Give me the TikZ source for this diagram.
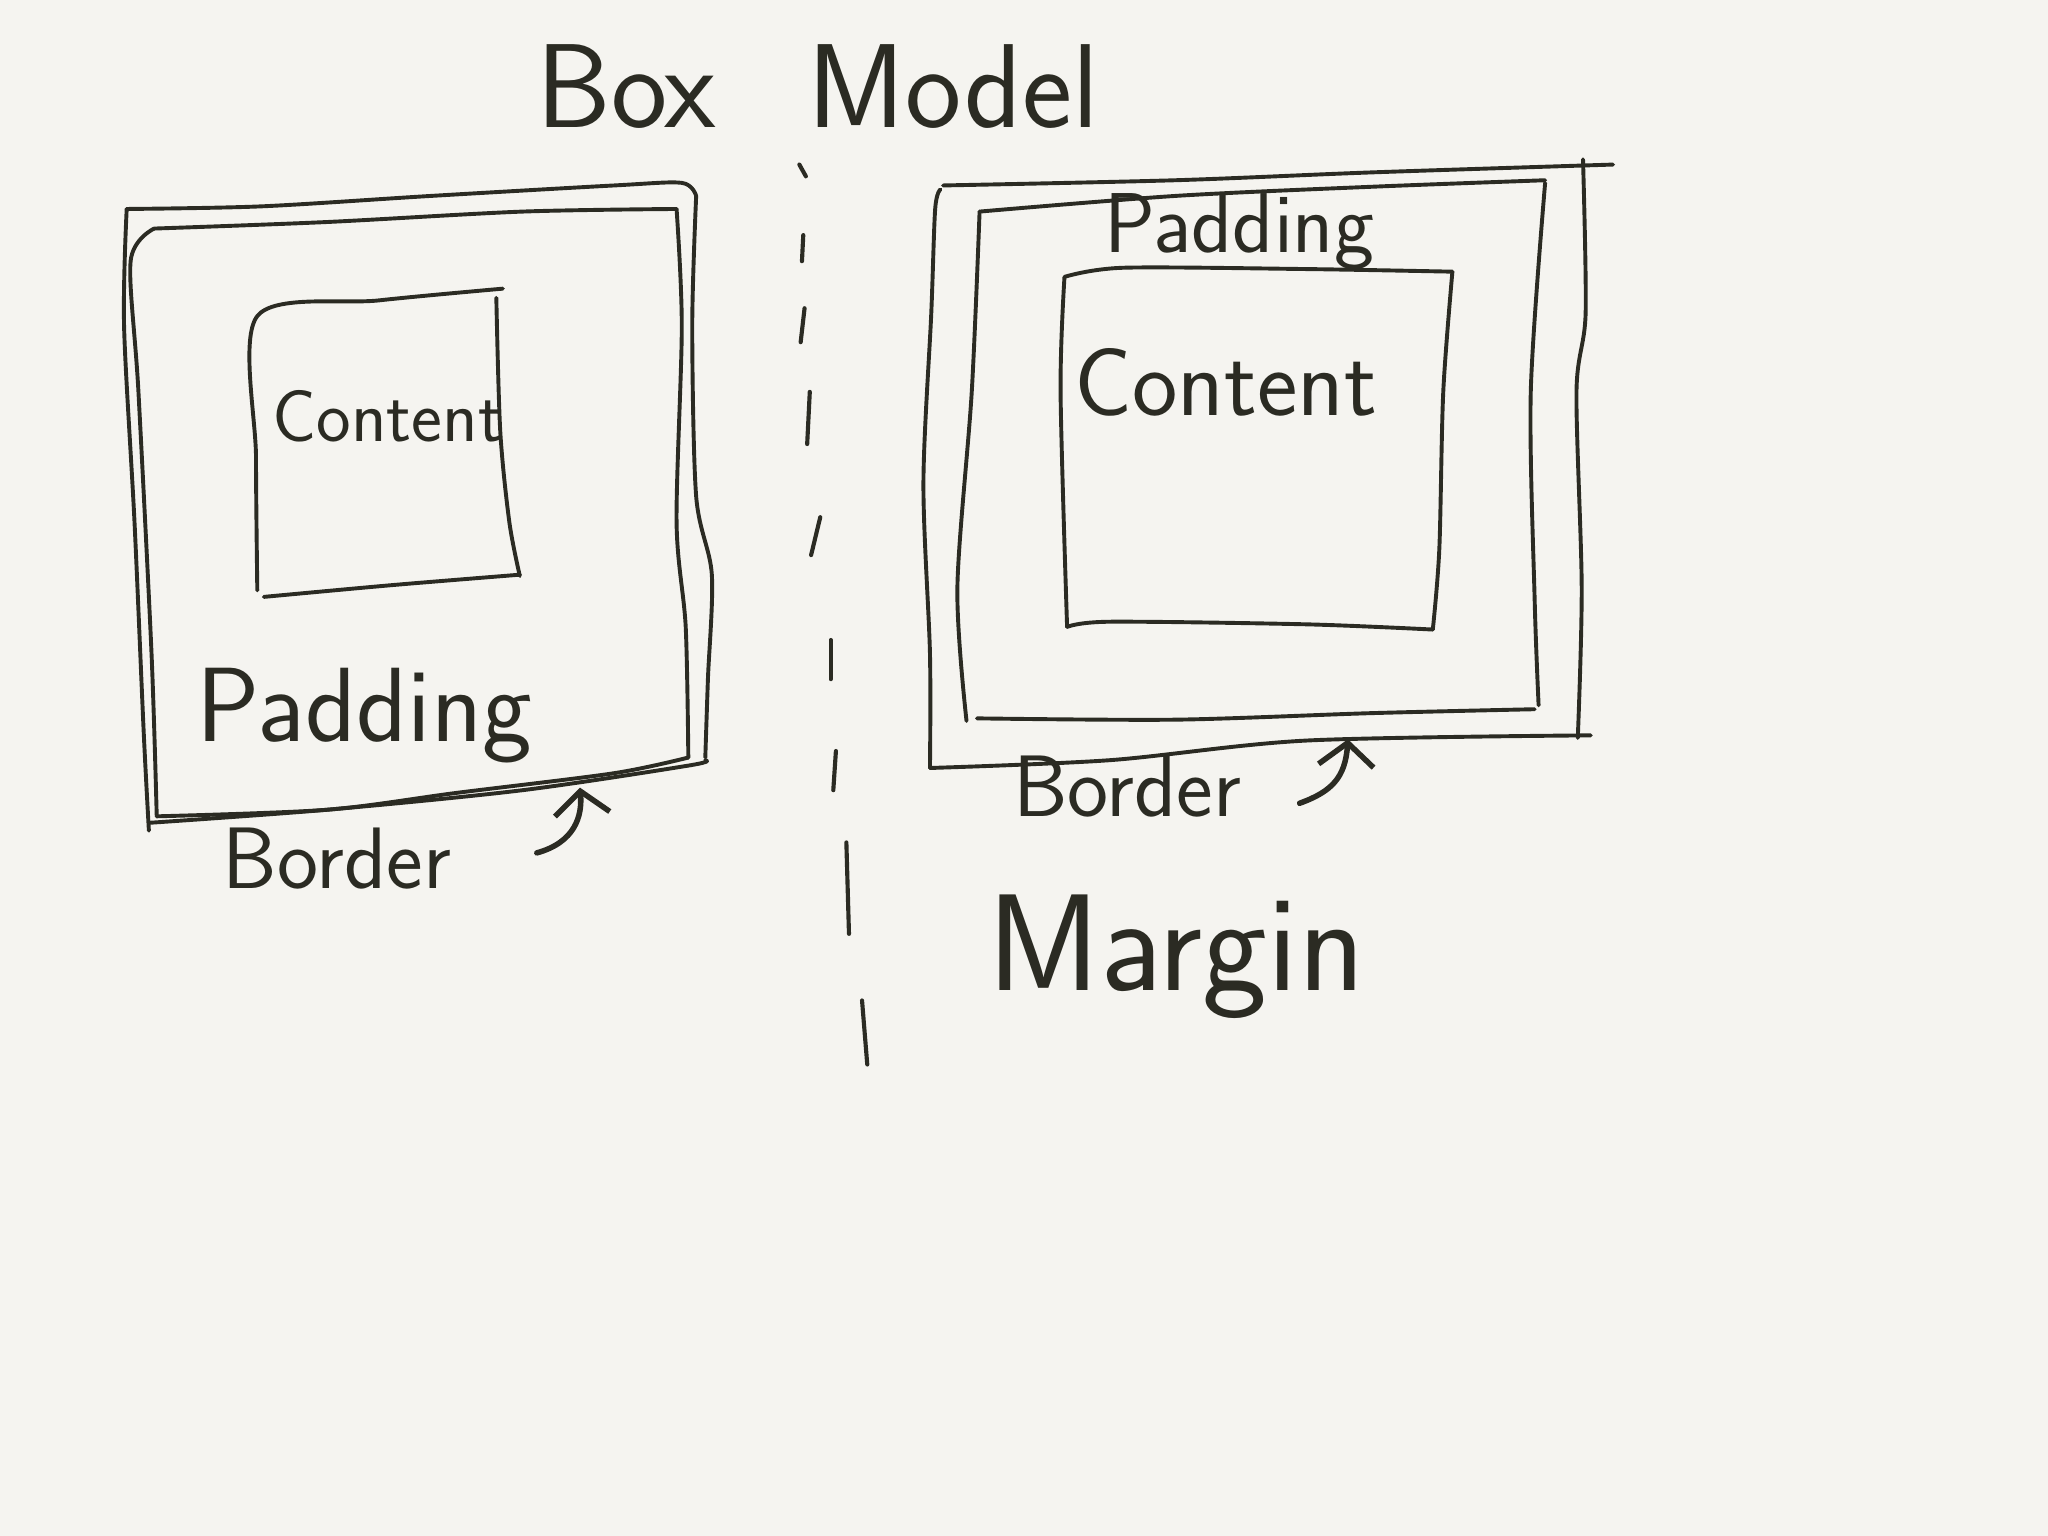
\documentclass[tikz,border=0pt]{standalone}
\usepackage{fontspec}
\usetikzlibrary{arrows.meta}
\definecolor{paper}{HTML}{F5F4F0}
\definecolor{ink}{HTML}{2B2B23}
\tikzset{
  inkline/.style={draw=ink, line width=0.85pt, line cap=round, line join=round},
  handtext/.style={text=ink, inner sep=0pt, anchor=base west},
  handarrow/.style={draw=ink, line width=1.2pt, line cap=round,
    -{Straight Barb[length=5pt,width=12pt,line width=1.2pt]}},
  dashstroke/.style={draw=ink, line width=0.9pt, line cap=round}
}
\newcommand{\hf}[1]{\sffamily\fontsize{#1}{#1}\selectfont}
\begin{document}
\begin{tikzpicture}[x=0.01cm,y=-0.01cm]
\fill[paper] (0,0) rectangle (1568,1176);
\useasboundingbox (0,0) rectangle (1568,1176);

% title
\node[handtext, font=\hf{26}] (title) at (410,98) {Box\hspace{20pt}Model};

% ---------- left box ----------
% outer border line
\draw[inkline] plot[smooth, tension=0.5] coordinates {(97,160) (200,158) (330,150) (470,142) (522,140) (533,150)};
\draw[inkline] plot[smooth, tension=0.5] coordinates {(533,150) (530,250) (533,380) (545,440) (542,520) (540,580)};
\draw[inkline] plot[smooth, tension=0.5] coordinates {(540,582) (528,586) (400,605) (250,620) (114,630)};
\draw[inkline] plot[smooth, tension=0.5] coordinates {(114,636) (110,560) (103,400) (95,250) (97,160)};
% inner border line
\draw[inkline] plot[smooth, tension=0.5] coordinates {(118,175) (250,170) (400,162) (518,160)};
\draw[inkline] plot[smooth, tension=0.5] coordinates {(518,160) (522,250) (518,400) (525,480) (527,580)};
\draw[inkline] plot[smooth, tension=0.5] coordinates {(527,580) (470,592) (350,607) (250,620) (120,625)};
\draw[inkline] plot[smooth, tension=0.5] coordinates {(120,625) (116,500) (106,300) (100,200) (118,175)};
% left content box
\draw[inkline] plot[smooth, tension=0.5] coordinates {(197,452) (196,350) (197,242) (290,230) (385,221)};
\draw[inkline] plot[smooth, tension=0.5] coordinates {(380,228) (383,330) (390,400) (398,441)};
\draw[inkline] plot[smooth, tension=0.5] coordinates {(202,457) (300,448) (398,440)};

\node[handtext, font=\hf{16}] (lcontent) at (208,338) {Content};
\node[handtext, font=\hf{23}] (lpadding) at (150,568) {Padding};
\node[handtext, font=\hf{19}] (lborder) at (170,680) {Border};
\coordinate (ltail) at (411,653);
\coordinate (ltip) at (444,603);
\draw[handarrow] (ltail) .. controls (440,645) and (446,625) .. (ltip);

% ---------- dashed divider ----------
\draw[dashstroke] (612,126) -- (617,135);
\draw[dashstroke] (615,180) -- (614,200);
\draw[dashstroke] (616,236) -- (613,262);
\draw[dashstroke] (620,300) -- (618,340);
\draw[dashstroke] (628,396) -- (621,425);
\draw[dashstroke] (636,490) -- (636,520);
\draw[dashstroke] (640,575) -- (638,605);
\draw[dashstroke] (648,645) -- (650,715);
\draw[dashstroke] (660,766) -- (664,815);

% ---------- right box ----------
% margin edge
\draw[inkline] plot[smooth, tension=0.5] coordinates {(722,142) (900,138) (1050,132) (1235,126)};
\draw[inkline] plot[smooth, tension=0.5] coordinates {(1212,122) (1214,240) (1207,300) (1211,450) (1208,565)};
\draw[inkline] plot[smooth, tension=0.5] coordinates {(720,145) (716,160) (713,240) (707,370) (712,500) (712,588)};
\draw[inkline] plot[smooth, tension=0.5] coordinates {(712,588) (850,582) (1000,567) (1218,563)};
% border inner edge
\draw[inkline] plot[smooth, tension=0.5] coordinates {(750,162) (900,150) (1050,143) (1183,138)};
\draw[inkline] plot[smooth, tension=0.5] coordinates {(1183,140) (1172,300) (1175,460) (1178,540)};
\draw[inkline] plot[smooth, tension=0.5] coordinates {(750,162) (744,300) (733,450) (740,552)};
\draw[inkline] plot[smooth, tension=0.5] coordinates {(748,550) (900,551) (1050,546) (1175,543)};
% right content box
\draw[inkline] plot[smooth, tension=0.5] coordinates {(815,212) (860,205) (1000,206) (1112,208)};
\draw[inkline] plot[smooth, tension=0.5] coordinates {(1112,208) (1105,300) (1102,420) (1097,482)};
\draw[inkline] plot[smooth, tension=0.5] coordinates {(817,480) (850,476) (1000,478) (1097,482)};
\draw[inkline] plot[smooth, tension=0.5] coordinates {(815,212) (812,300) (817,480)};

\node[handtext, font=\hf{18.5}] (rpadding) at (845,193) {Padding};
\node[handtext, font=\hf{21}] (rcontent) at (822,318) {Content};
\node[handtext, font=\hf{19}] (rborder) at (775,625) {Border};
\coordinate (rtail) at (995,615);
\coordinate (rtip) at (1032,566);
\draw[handarrow] (rtail) .. controls (1020,606) and (1030,595) .. (rtip);

\node[handtext, font=\hf{30}] (margin) at (755,758) {Margin};
\end{tikzpicture}
\end{document}
